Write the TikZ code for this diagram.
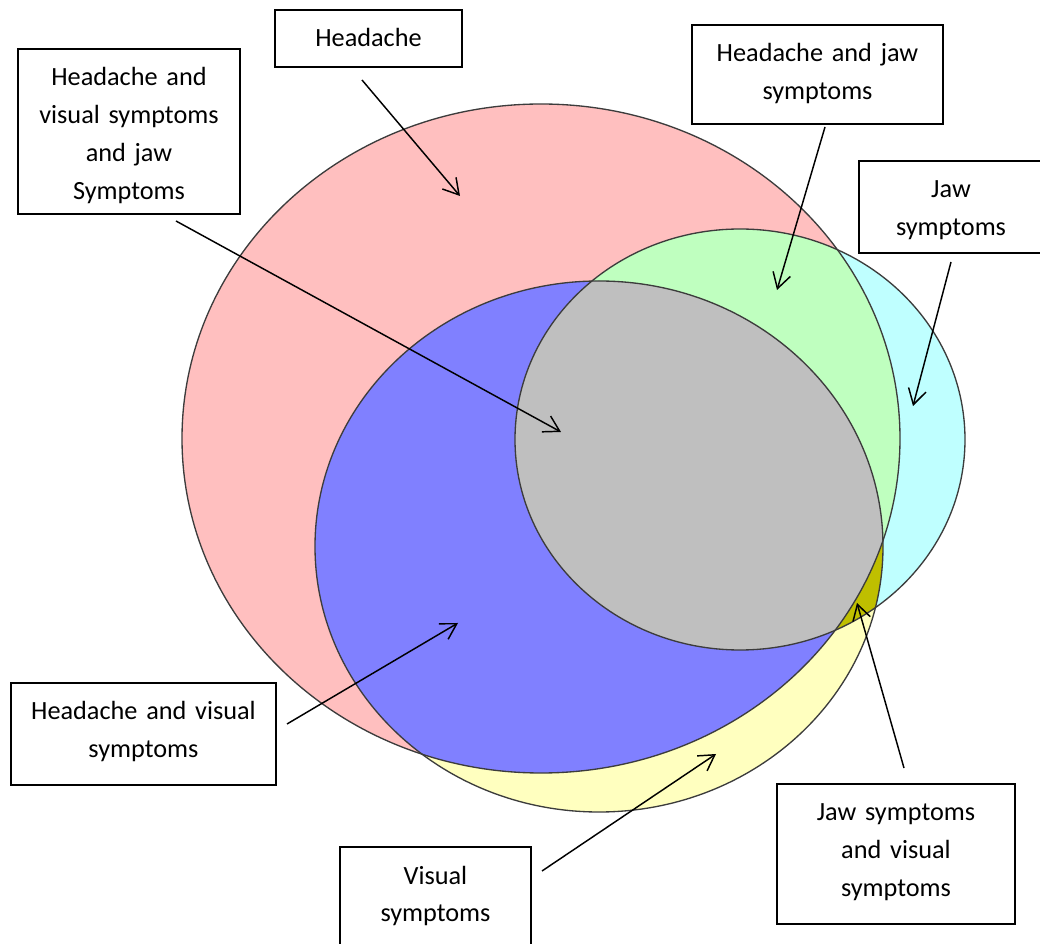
\documentclass[tikz,border=0pt]{standalone}
\usepackage{fontspec}
\setmainfont{Carlito}
\usetikzlibrary{arrows.meta}
\definecolor{cH}{RGB}{255,191,191}
\definecolor{cJ}{RGB}{191,255,255}
\definecolor{cV}{RGB}{255,255,191}
\definecolor{cHJ}{RGB}{191,255,191}
\definecolor{cHV}{RGB}{128,128,255}
\definecolor{cJV}{RGB}{191,191,0}
\definecolor{cHJV}{RGB}{191,191,191}
\definecolor{edge}{RGB}{60,60,60}
\begin{document}
\begin{tikzpicture}[x=0.75pt,y=-0.75pt,
  box/.style={draw=black, line width=1.5pt, fill=white, inner sep=0pt, anchor=north west,
    align=center, text height=27.75pt, font=\fontsize{19.7pt}{28.3pt}\selectfont},
  arr/.style={line width=1.1pt, -{Straight Barb[length=11.5pt,width=13.5pt]}},
  venn/.style={draw=edge, line width=1pt}]
\useasboundingbox (0,0) rectangle (1040,944);
\def\Hpath{(541,438.5) ellipse [x radius=269.25pt, y radius=250.875pt]}
\def\Jpath{(740,439.5) ellipse [x radius=168.75pt, y radius=157.875pt]}
\def\Vpath{(599,546.5) ellipse [x radius=213pt, y radius=199.125pt]}
% single regions
\fill[cH] \Hpath;
\fill[cJ] \Jpath;
\fill[cV] \Vpath;
% pairwise
\begin{scope}\clip \Hpath; \fill[cHJ] \Jpath; \end{scope}
\begin{scope}\clip \Hpath; \fill[cHV] \Vpath; \end{scope}
\begin{scope}\clip \Jpath; \fill[cJV] \Vpath; \end{scope}
% triple
\begin{scope}\clip \Hpath; \clip \Jpath; \fill[cHJV] \Vpath; \end{scope}
% outlines
\draw[venn] \Hpath;
\draw[venn] \Jpath;
\draw[venn] \Vpath;
% boxes
\node[box, minimum width=140.25pt, text width=140.25pt, text depth=15pt] (hd) at (274,9) {Headache};
\node[box, minimum width=166.5pt, text width=166.5pt, text depth=96pt] (hvj) at (17,48) {Headache and\\visual symptoms\\and jaw\\Symptoms};
\node[box, minimum width=188.25pt, text width=188.25pt, text depth=46.5pt] (hj) at (691,24) {Headache and jaw\\symptoms};
\node[box, minimum width=138pt, text width=138pt, text depth=41.25pt] (jw) at (858,160) {Jaw\\symptoms};
\node[box, minimum width=198.75pt, text width=198.75pt, text depth=48.75pt] (hv) at (10,682) {Headache and visual\\symptoms};
\node[box, minimum width=143.25pt, text width=143.25pt, text depth=54.75pt] (vs) at (339,846) {Visual\\symptoms};
\node[box, minimum width=178.5pt, text width=178.5pt, text depth=77.25pt] (jv) at (776,783) {Jaw symptoms\\and visual\\symptoms};
% arrow end points
\coordinate (hdA) at (362,80);   \coordinate (hdB) at (460,196);
\coordinate (hvjA) at (176,221); \coordinate (hvjB) at (561,432);
\coordinate (hjA) at (825,127);  \coordinate (hjB) at (777,290);
\coordinate (jwA) at (951,262);  \coordinate (jwB) at (913,406);
\coordinate (hvA) at (287,724);  \coordinate (hvB) at (458,623);
\coordinate (vsA) at (542,871);  \coordinate (vsB) at (716,754);
\coordinate (jvA) at (904,768);  \coordinate (jvB) at (857,603);
\draw[arr] (hdA) -- (hdB);
\draw[arr] (hvjA) -- (hvjB);
\draw[arr] (hjA) -- (hjB);
\draw[arr] (jwA) -- (jwB);
\draw[arr] (hvA) -- (hvB);
\draw[arr] (vsA) -- (vsB);
\draw[arr] (jvA) -- (jvB);
\end{tikzpicture}
\end{document}
